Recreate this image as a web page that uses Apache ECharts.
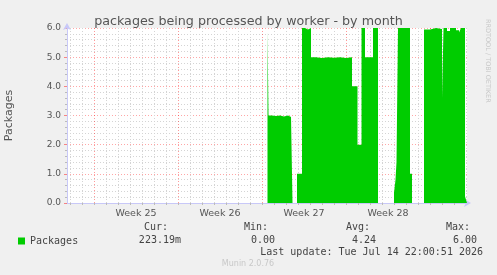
<!DOCTYPE html>
<html>
<head>
<meta charset="utf-8">
<script src="https://cdn.jsdelivr.net/npm/echarts@6/dist/echarts.min.js"></script>
<style>
  html, body { margin: 0; padding: 0; background: #f0f0f0; }
  #chart { width: 497px; height: 275px; }
</style>
</head>
<body>
<div id="chart"></div>
<script>
// x = days since Sun 14 Jun 2026 00:00, each value holds until the next time
var times = [14.458, 14.542, 14.833, 15.167, 15.5, 15.833, 16.167, 16.417, 16.542, 16.917,
  17.333, 17.583, 17.833, 18.083, 18.5, 19.0, 19.5, 20.0, 20.5, 21.0,
  21.5, 21.958, 22.292, 22.583, 23.25, 23.667, 25.0, 25.125, 25.208, 25.333,
  26.333, 26.5, 27.5, 28.0, 28.5, 29.0, 29.125, 29.417, 29.667, 30.167,
  30.417, 30.583, 30.917, 31.083]
var packages = [5.9, 3.0, 2.98, 3.0, 2.97, 3.0, 2.95, 2.9, 0, 1.0,
  6.0, 5.95, 6.0, 5.0, 4.97, 5.0, 4.98, 5.0, 4.97, 5.0,
  4.0, 2.0, 6.0, 5.0, 6.0, 0, 0.35, 0.8, 1.4, 6.0,
  1.0, 0, 5.95, 6.0, 5.97, 3.6, 6.0, 5.9, 6.0, 5.92,
  5.85, 6.0, 0.22, 0.22]

var weekNames = ['Week 25', 'Week 26', 'Week 27', 'Week 28']
var weekMids = [3.5, 10.5, 17.5, 24.5]
var weekStarts = [0, 7, 14, 21, 28]
var xStart = -2.25
var xEnd = 31.083

var statNames = ['Cur:', 'Min:', 'Avg:', 'Max:']
var statValues = ['223.19m', '0.00', '4.24', '6.00']
var lastUpdate = 'Last update: Tue Jul 14 22:00:51 2026'

var green = '#00cc00'
var mono = '"DejaVu Sans Mono", monospace'
var sans = '"DejaVu Sans", sans-serif'

// daily grid lines, red on week boundaries
var days = []
for (var d = Math.ceil(xStart); d <= xEnd; d++) days.push(d)
var gridLines = days.map(function (d) {
  var major = weekStarts.indexOf(d) >= 0
  return {
    xAxis: d,
    lineStyle: {
      color: major ? 'rgba(255,0,0,0.4)' : '#d4d4d4',
      type: [1, 2],
      width: 1
    }
  }
})

var seriesData = times.map(function (t, i) { return [t, packages[i]] })

var statX = [168, 268, 370, 470]
var valueX = [181, 275, 376, 477]
var graphics = []
statNames.forEach(function (s, i) {
  graphics.push({
    type: 'text', x: statX[i], y: 227,
    style: { text: s, font: '10px ' + mono, fill: '#444', align: 'right', verticalAlign: 'middle' }
  })
  graphics.push({
    type: 'text', x: valueX[i], y: 240,
    style: { text: statValues[i], font: '10px ' + mono, fill: '#444', align: 'right', verticalAlign: 'middle' }
  })
})
graphics.push({
  type: 'text', x: 483, y: 252,
  style: { text: lastUpdate, font: '10px ' + mono, fill: '#444', align: 'right', verticalAlign: 'middle' }
})
graphics.push({
  type: 'text', x: 248, y: 264,
  style: { text: 'Munin 2.0.76', font: '8px ' + sans, fill: '#c8c8c8', align: 'center', verticalAlign: 'middle' }
})
graphics.push({
  type: 'text', x: 488, y: 19, rotation: -Math.PI / 2,
  style: { text: 'RRDTOOL / TOBI OETIKER', font: '6.5px ' + sans, fill: '#c8c8c8', align: 'left', verticalAlign: 'middle' }
})

var chart = echarts.init(document.getElementById('chart'))
chart.setOption({
  backgroundColor: '#f0f0f0',
  animation: false,
  title: {
    text: 'packages being processed by worker - by month',
    left: 'center',
    top: 10,
    textStyle: { fontFamily: sans, fontSize: 12.7, fontWeight: 'normal', color: '#555' }
  },
  legend: {
    data: ['Packages'],
    left: 13,
    top: 231,
    icon: 'rect',
    itemWidth: 7,
    itemHeight: 7,
    textStyle: { fontFamily: mono, fontSize: 10, color: '#444' }
  },
  grid: {
    left: 67,
    top: 28,
    width: 400,
    height: 175,
    show: true,
    backgroundColor: '#ffffff',
    borderWidth: 0,
    containLabel: false,
    outerBoundsMode: 'none'
  },
  xAxis: {
    type: 'value',
    min: xStart,
    max: xEnd,
    axisLine: {
      onZero: false,
      lineStyle: { color: '#c8c8f8' },
      symbol: ['none', 'arrow'],
      symbolSize: [6, 7],
      symbolOffset: [0, 4]
    },
    axisTick: { customValues: days, length: 2, lineStyle: { color: '#bbb' } },
    axisLabel: {
      customValues: weekMids,
      formatter: function (v) {
        var i = weekMids.indexOf(v)
        return i >= 0 ? weekNames[i] : ''
      },
      fontFamily: sans,
      fontSize: 9.5,
      color: '#555',
      margin: 6
    },
    splitLine: { show: false }
  },
  yAxis: {
    type: 'value',
    min: 0,
    max: 6,
    interval: 1,
    name: 'Packages',
    nameLocation: 'middle',
    nameRotate: 90,
    nameGap: 52,
    nameTextStyle: { fontFamily: sans, fontSize: 11, color: '#555' },
    axisLine: {
      show: true,
      onZero: false,
      lineStyle: { color: '#c8c8f8' },
      symbol: ['none', 'arrow'],
      symbolSize: [6, 7],
      symbolOffset: [0, 5]
    },
    axisTick: { show: true, length: 3, lineStyle: { color: 'rgba(255,0,0,0.45)' } },
    minorTick: { show: true, splitNumber: 5, length: 2, lineStyle: { color: '#bbb' } },
    axisLabel: {
      formatter: function (v) { return v.toFixed(1) },
      fontFamily: sans,
      fontSize: 9,
      color: '#555',
      margin: 6
    },
    splitLine: { lineStyle: { color: 'rgba(255,0,0,0.35)', type: [1, 2] } },
    minorSplitLine: { show: true, lineStyle: { color: '#d4d4d4', type: [1, 2] } }
  },
  series: [{
    name: 'Packages',
    type: 'line',
    step: 'end',
    data: seriesData,
    showSymbol: false,
    color: green,
    lineStyle: { width: 0 },
    areaStyle: { color: green, opacity: 1 },
    z: 2,
    markLine: {
      silent: true,
      symbol: 'none',
      z: 1,
      label: { show: false },
      data: gridLines
    }
  }],
  graphic: graphics
})
</script>
</body>
</html>
